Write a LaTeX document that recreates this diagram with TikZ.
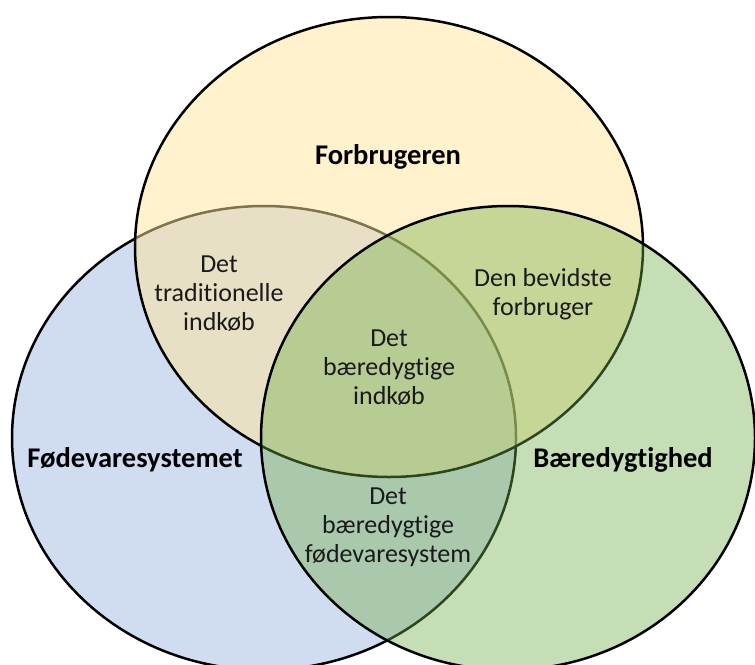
\documentclass[tikz,border=0pt]{standalone}
\usepackage{fontspec}
\setmainfont{Carlito}[RawFeature=-liga]
\definecolor{setblue}{HTML}{4472C4}
\definecolor{setgold}{HTML}{FFE699}
\definecolor{setgreen}{HTML}{70AD47}
\definecolor{labeltext}{HTML}{1A1A1A}
\tikzset{
  setring/.style={line width=2.5pt, draw=black},
  setname/.style={font=\fontsize{28.5}{32}\selectfont\bfseries, text=black, inner sep=0pt},
  zonelabel/.style={font=\fontsize{26}{29}\selectfont, text=labeltext, align=center, inner sep=0pt},
}
\begin{document}
\begin{tikzpicture}[x=1pt, y=-1pt]
  \useasboundingbox (0,0) rectangle (755,664);
  \clip (0,0) rectangle (755,664);
  % the three sets, drawn back to front
  \filldraw[setring, fill=setblue, fill opacity=0.25]
    (264,438) ellipse [x radius=252pt, y radius=232pt];
  \filldraw[setring, fill=setgold, fill opacity=0.5]
    (389,247) ellipse [x radius=254pt, y radius=230pt];
  \filldraw[setring, fill=setgreen, fill opacity=0.4]
    (508,438) ellipse [x radius=247pt, y radius=232pt];
  % set names
  \node[setname] (consumer) at (388,157) {Forbrugeren};
  \node[setname] (foodsys) at (135,460) {Fødevaresystemet};
  \node[setname] (sustain) at (623,460) {Bæredygtighed};
  % overlap labels
  \node[zonelabel] (traditional) at (219,294) {Det\\traditionelle\\indkøb};
  \node[zonelabel] (conscious) at (543,294) {Den bevidste\\forbruger};
  \node[zonelabel] (purchase) at (389,368) {Det\\bæredygtige\\indkøb};
  \node[zonelabel] (foodsystem) at (388,527) {Det\\bæredygtige\\fødevaresystem};
\end{tikzpicture}
\end{document}
